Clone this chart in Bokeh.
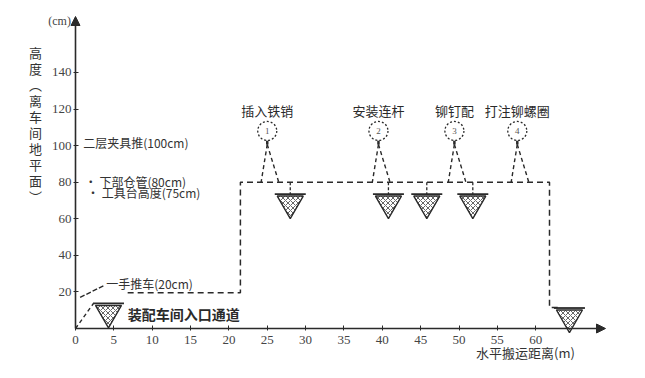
from bokeh.plotting import figure
from bokeh.models import Label, Arrow, NormalHead, FixedTicker
from bokeh.core.properties import value
from bokeh.embed import file_html
from bokeh.resources import INLINE

# ---------------- data ----------------
x_ticks = [0, 5, 10, 15, 20, 25, 30, 35, 40, 45, 50, 55, 60]
y_ticks = [20, 40, 60, 80, 100, 120, 140]

op_names = ["插入铁销", "安装连杆", "铆钉配", "打注铆螺圈"]
op_nums = ["1", "2", "3", "4"]
op_dist = [25.0, 39.5, 49.4, 57.6]
op_height = [108, 108, 108, 108]
op_label_height = [119, 119, 119, 119]

store_dist = [4.3, 28.0, 40.8, 45.8, 51.8, 64.4]
store_height = [8.5, 68.3, 68.3, 68.3, 68.3, 6.0]

flow_dist = [6.8, 21.5, 21.5, 61.8, 61.8, 63.2]
flow_height = [19.5, 19.5, 80, 80, 11.5, 11.5]

cart_leader_dist = [0.6, 3.7]
cart_leader_height = [17, 23.5]

note_texts = ["二层夹具推(100cm)", "· 下部仓管(80cm)", "• 工具台高度(75cm)", "一手推车(20cm)"]
note_dist = [1.0, 1.2, 1.5, 4.0]
note_height = [101.5, 80.5, 74.5, 24.5]

entry_text = "装配车间入口通道"
entry_dist = 6.8
entry_height = 8.0

y_title = "高\n度\n︵\n离\n车\n间\n地\n平\n面\n︶"
x_title = "水平搬运距离(m)"

# ---------------- geometry ----------------
FIG_W, FIG_H = 637, 366
X0_PX, Y0_PX = 75, 328          # where the axes cross, in canvas pixels
X_PX, Y_PX = 7.67, 1.829        # pixels per data unit
x_rng = (-X0_PX / X_PX, (FIG_W - X0_PX) / X_PX)
y_rng = (-(FIG_H - Y0_PX) / Y_PX, Y0_PX / Y_PX)

INK = "#2a2a2a"
CJK = "Noto Sans CJK SC"
SERIF = "Liberation Serif"

p = figure(width=FIG_W, height=FIG_H, x_range=x_rng, y_range=y_rng,
           output_backend="svg", toolbar_location=None,
           min_border_left=0, min_border_right=0,
           min_border_top=0, min_border_bottom=0)
p.grid.visible = False
p.outline_line_color = None
p.background_fill_color = "white"
p.border_fill_color = "white"

for ax, ticks in ((p.xaxis, x_ticks), (p.yaxis, y_ticks)):
    ax.fixed_location = 0
    ax.ticker = FixedTicker(ticks=ticks)
    ax.axis_line_color = None
    ax.major_tick_in = 3
    ax.major_tick_out = 2
    ax.major_tick_line_color = INK
    ax.minor_tick_line_color = None
    ax.major_label_text_font = SERIF
    ax.major_label_text_font_size = "13px"
    ax.major_label_text_color = "#444444"
p.xaxis.major_label_standoff = 5
p.yaxis.major_label_standoff = 2

# axes with arrows
y_top = (Y0_PX - 16) / Y_PX
x_right = (605 - X0_PX) / X_PX
p.add_layout(Arrow(end=NormalHead(size=9, fill_color=INK, line_color=INK),
                   x_start=0, y_start=0, x_end=0, y_end=y_top,
                   line_color=INK, line_width=1.6))
p.add_layout(Arrow(end=NormalHead(size=9, fill_color=INK, line_color=INK),
                   x_start=0, y_start=0, x_end=x_right, y_end=0,
                   line_color=INK, line_width=1.6))

dash = "6 4"
# main flow path
p.line(flow_dist, flow_height, line_color=INK, line_width=1.5, line_dash=dash)
level = flow_height[2]

# circle stems and legs
r_data = 9.5 / Y_PX
stem_top = [h - r_data for h in op_height]
stem_bot = [h - r_data - 4 / Y_PX for h in op_height]
p.segment(op_dist, stem_top, op_dist, stem_bot, line_color=INK, line_width=2.5)
p.segment(op_dist, stem_bot, [d - 0.8 for d in op_dist], [level] * len(op_dist),
          line_color=INK, line_width=1.4, line_dash="4 3")
p.segment(op_dist, stem_bot, [d + 1.5 for d in op_dist], [level] * len(op_dist),
          line_color=INK, line_width=1.4, line_dash="4 3")

# storage triangles
TRI = 26
bar_y = [h + (TRI * 0.866 / 3 + 2) / Y_PX for h in store_height]
mid = slice(1, 5)
p.segment(store_dist[mid], [level] * 4, store_dist[mid], bar_y[mid],
          line_color=INK, line_width=1.3, line_dash="3 2")
p.line([0, store_dist[0] - 15 / X_PX], [0, bar_y[0]], line_color=INK,
       line_width=1.4, line_dash="4 3")
p.line(cart_leader_dist, cart_leader_height, line_color=INK, line_width=1.4,
       line_dash="5 2")

p.scatter(store_dist, store_height, marker="inverted_triangle", size=TRI,
          fill_color="white", line_color=INK, line_width=1.4,
          hatch_pattern="x", hatch_color="#555555", hatch_scale=5, hatch_weight=0.9)
p.scatter(store_dist, bar_y, marker="dash", size=31, line_color=INK, line_width=1.8)

# operation circles
p.scatter(op_dist, op_height, marker="circle", size=19, fill_color="white",
          line_color=INK, line_width=1.3, line_dash="2 2")
p.text(op_dist, op_height, text=op_nums, text_align="center", text_baseline="middle",
       text_font=value(SERIF), text_font_size="9px", text_color="#555555")
p.text(op_dist, op_label_height, text=op_names, text_align="center",
       text_baseline="middle", text_font=value(CJK), text_font_size="13px",
       text_color=INK)

# notes
p.text(note_dist, note_height, text=note_texts, text_align="left",
       text_baseline="middle", text_font=value(CJK), text_font_size="12px",
       text_color="#333333")
p.add_layout(Label(x=entry_dist, y=entry_height, text=entry_text, text_align="left",
                   text_baseline="middle", text_font=CJK, text_font_size="14px",
                   text_font_style="bold", text_color=INK))

# titles
p.add_layout(Label(x=-0.6, y=(Y0_PX - 20) / Y_PX, text="(cm)", text_align="right",
                   text_baseline="middle", text_font=SERIF, text_font_size="12px",
                   text_color="#444444"))
p.add_layout(Label(x=(35 - X0_PX) / X_PX, y=(Y0_PX - 124) / Y_PX, text=y_title,
                   text_align="center", text_baseline="middle", text_font=CJK,
                   text_font_size="13px", text_line_height=0.84, text_color="#333333"))
p.add_layout(Label(x=(525 - X0_PX) / X_PX, y=(Y0_PX - 352) / Y_PX, text=x_title,
                   text_align="center", text_baseline="middle", text_font=CJK,
                   text_font_size="13px", text_color="#333333"))

open("out.html", "w").write(file_html(p, INLINE))
